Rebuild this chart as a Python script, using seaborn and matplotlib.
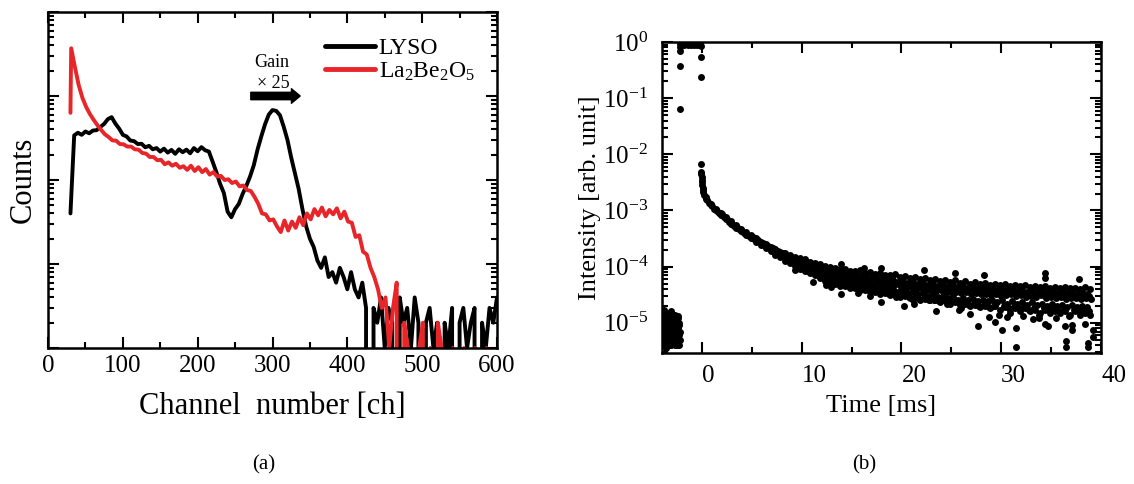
import numpy as np
import pandas as pd
import matplotlib
matplotlib.use("Agg")
import matplotlib.pyplot as plt
import seaborn as sns
from matplotlib.ticker import LogLocator, MultipleLocator, NullFormatter

# ---------- (a) pulse height spectra (counts, every 5 ch) ----------
lyso_ch = np.arange(30, 601, 5)
lyso_counts = [40, 340, 365, 345, 378, 360, 388, 392, 428, 465,
               530, 560, 470, 410, 345, 330, 295, 290, 268, 270,
               245, 255, 232, 240, 218, 236, 212, 228, 205, 232,
               214, 230, 208, 240, 220, 246, 226, 218, 165, 124,
               90, 70, 42, 36, 45, 52, 68, 85, 110, 150,
               230, 330, 460, 600, 680, 665, 590, 430, 300, 185,
               120, 78, 45, 28, 20, 16, 11, 9, 12, 7,
               8, 6, 9, 7, 5, 8, 5, 4, 6, 3,
               0, 3, 2, 4, 1, 3, 2, 0, 4, 2,
               3, 1, 4, 2, 0, 2, 3, 1, 2, 0,
               2, 1, 3, 0, 2, 3, 1, 2, 3, 0,
               2, 1, 3, 2, 4]

lbo_ch = np.r_[30, np.arange(31, 601, 5)]
lbo_counts = [630,
              3700, 2200, 1350, 950, 740, 610, 520, 450, 395, 350,
              325, 296, 294, 268, 266, 250, 250, 232, 230, 210,
              206, 188, 188, 172, 174, 154, 162, 148, 156, 140,
              146, 132, 148, 128, 142, 124, 135, 116, 124, 110,
              112, 100, 102, 92, 96, 84, 86, 76, 74, 63,
              52, 40, 39, 33, 34, 28, 24, 33, 25, 32,
              27, 36, 29, 40, 34, 45, 38, 47, 37, 44,
              39, 46, 35, 42, 32, 31, 21, 22, 14, 13,
              9, 7, 5, 3, 4, 1, 3, 6, 0, 2,
              1, 0, 0, 1, 2, 0, 1, 0, 2, 1,
              0, 0, 1, 0, 0, 1, 0, 0, 1, 0,
              0, 1, 0, 0]

# ---------- (b) decay curve (intensity x 1e-6 unless noted) ----------
pre_t = np.linspace(-4.0, -2.2, 31)
pre_v1 = [9, 14, 6, 11, 17, 8, 12, 5, 10, 15, 7, 13, 9, 4, 11, 16, 8, 6, 12, 10,
          5, 9, 14, 7, 11, 4, 8, 13, 6, 10, 5]
pre_v2 = [5, 7, 12, 4, 8, 6, 3.5, 10, 6, 4, 9, 5, 7, 12, 5, 4, 10, 14, 5, 7,
          11, 4, 6, 10, 4, 7, 12, 5, 9, 4, 7]

sat_t = np.linspace(-2.2, -0.15, 30)
sat_v = [0.92, 0.95, 0.9, 0.94, 0.91, 0.96, 0.9, 0.93, 0.95, 0.91,
         0.94, 0.9, 0.96, 0.92, 0.95, 0.9, 0.93, 0.96, 0.91, 0.94,
         0.9, 0.95, 0.92, 0.96, 0.9, 0.94, 0.91, 0.95, 0.92, 0.9]   # absolute
edge_t = [-2.2, -2.2, -2.2, -2.2, -0.1, -0.1, -0.1]
edge_v = [0.063, 0.38, 0.68, 0.82, 0.84, 0.55, 0.24]              # absolute

onset_t = [-0.1, -0.08, -0.06, -0.04, -0.02, 0.0, 0.03, 0.06, 0.1, 0.15]
onset_v = [6600, 4900, 4400, 3900, 3500, 3150, 2850, 2550, 2300, 2100]

decay_t = np.arange(1, 157) * 0.25
decay_mid = [1850, 1540, 1360, 1200, 1080, 990, 915, 850, 760, 695,
             635, 578, 540, 498, 465, 425, 400, 370, 352, 328,
             312, 285, 272, 250, 243, 222, 218, 197, 190, 174,
             172, 158, 156, 140, 142, 125, 131, 118, 121, 107,
             112, 98, 106, 92, 99, 86, 94, 80, 88, 74,
             84, 70, 80, 67, 76, 63, 73, 60, 70, 58,
             66, 56, 64, 52, 63, 54, 60, 50, 58, 52,
             56, 48, 57, 47, 54, 46, 53, 49, 51, 44,
             50, 42, 49, 44, 46, 40, 48, 41, 45, 39,
             44, 38, 45, 37, 42, 39, 43, 36, 41, 35,
             40, 35, 41, 34, 38, 36, 39, 33, 38, 34,
             37, 32, 38, 33, 36, 31, 37, 33, 35, 30,
             36, 31, 35, 32, 34, 30, 35, 31, 33, 29,
             34, 30, 33, 29, 34, 31, 32, 28, 33, 29,
             32, 28, 33, 29, 31, 27, 32, 28, 31, 28,
             30, 27, 31, 28, 30, 27]

band_t = 0.375 + 0.5 * np.arange(78)
band_hi = [1760, 1330, 1080, 920, 770, 640, 550, 470, 410, 360,
           320, 280, 250, 225, 205, 185, 172, 158, 148, 140,
           135, 122, 118, 110, 104, 100, 96, 90, 92, 84,
           82, 86, 78, 80, 74, 77, 72, 70, 73, 66,
           68, 64, 66, 60, 63, 58, 60, 56, 59, 54,
           57, 52, 55, 50, 53, 49, 52, 48, 50, 47,
           49, 46, 48, 45, 47, 44, 46, 43, 45, 42,
           44, 41, 43, 41, 42, 40, 43, 40]
band_lo = [1620, 1230, 1000, 840, 700, 580, 495, 425, 365, 320,
           278, 242, 212, 188, 162, 146, 128, 117, 102, 92,
           82, 76, 70, 62, 60, 54, 52, 48, 45, 43,
           41, 38, 39, 35, 36, 33, 34, 31, 32, 29,
           30, 28, 29, 26, 27, 25, 26, 23, 25, 22,
           23, 21, 22, 20, 21, 19, 20, 18, 20, 17,
           19, 17, 18, 16, 18, 16, 17, 15, 17, 15,
           16, 15, 16, 14, 16, 14, 15, 14]

band2_t = 10.125 + 0.5 * np.arange(58)
band2_v = [92, 84, 80, 71, 70, 62, 63, 56, 57, 51,
           52, 46, 48, 43, 45, 40, 42, 38, 40, 36,
           37, 34, 35, 32, 34, 30, 32, 29, 30, 28,
           29, 26, 28, 25, 27, 24, 26, 24, 25, 23,
           25, 22, 24, 22, 23, 21, 23, 21, 22, 20,
           22, 20, 21, 19, 21, 19, 20, 19]

band3_t = 5.125 + 0.5 * np.arange(68)
band3_v = [340, 300, 262, 236, 212, 188, 172, 155, 140, 130,
           124, 112, 108, 98, 96, 88, 86, 80, 79, 72,
           74, 68, 70, 64, 66, 60, 62, 57, 59, 54,
           56, 52, 54, 50, 52, 48, 50, 46, 48, 45,
           47, 43, 45, 42, 44, 41, 43, 40, 42, 39,
           41, 38, 40, 37, 39, 36, 38, 36, 37, 35,
           37, 34, 36, 34, 35, 33, 35, 33]

band4_t = 12.3 + 0.5 * np.arange(54)
band4_v = [56, 52, 50, 46, 47, 42, 43, 39, 40, 30,
           38, 35, 35, 32, 33, 30, 31, 29, 22, 27,
           28, 26, 26, 24, 25, 23, 24, 17, 23, 21,
           22, 20, 21, 19, 20, 14, 20, 18, 19, 18,
           19, 17, 18, 12, 18, 17, 18, 16, 17, 13,
           17, 16, 17, 16]

out_t = [9.3, 11.1, 12.4, 12.9, 13.9, 13.9, 15.6, 16.2, 16.8, 17.9, 17.95, 19.5,
         20.3, 21.2, 22.3, 23.5, 24.6, 25.4, 26.0, 26.9, 27.7, 28.3, 28.8, 29.4,
         30.1, 30.6, 30.9, 31.5, 31.5, 32.2, 33.2, 33.8, 34.4, 34.4, 34.4, 34.7,
         35.5, 36.4, 36.5, 36.5, 37.1, 37.1, 37.8, 38.4, 38.7, 38.7, 39.2, 39.2]
out_v = [86, 54, 48, 43, 32, 110, 34, 95, 38, 95, 23, 29,
         20, 26, 88, 16, 22, 78, 18, 14.5, 8.9, 70, 12.8, 10.5,
         7.6, 12.8, 15, 8.1, 3.7, 13, 11.5, 14, 9.6, 76, 64, 8.9,
         12, 8.9, 4.8, 3.7, 9, 7.5, 60, 9.6, 4.3, 3.7, 7.5, 5.5]

# ---------- figure ----------
sns.set_style("ticks")
plt.rcParams["font.family"] = ["Liberation Serif", "DejaVu Serif"]
plt.rcParams["mathtext.default"] = "regular"
plt.rcParams["axes.unicode_minus"] = False
for k in ["text.color", "axes.labelcolor", "xtick.color", "ytick.color", "axes.edgecolor"]:
    plt.rcParams[k] = "black"

fig = plt.figure(figsize=(11.34, 4.84), dpi=100)
ax1 = fig.add_axes([48 / 1134, 1 - 348 / 484, 449 / 1134, 336 / 484])
ax2 = fig.add_axes([662 / 1134, 1 - 353 / 484, 439 / 1134, 311 / 484])

# (a)
sns.lineplot(x=lyso_ch, y=lyso_counts, ax=ax1, color="black", lw=2.8,
             estimator=None, label="LYSO", legend=False)
sns.lineplot(x=lbo_ch, y=lbo_counts, ax=ax1, color="#e8262a", lw=2.8,
             estimator=None, label="La$_2$Be$_2$O$_5$", legend=False)
ax1.set_yscale("log", nonpositive="clip")
ax1.set_xlim(0, 600)
ax1.set_ylim(1, 1e4)
ax1.xaxis.set_major_locator(MultipleLocator(100))
ax1.xaxis.set_minor_locator(MultipleLocator(50))
ax1.yaxis.set_major_locator(LogLocator(base=10, numticks=10))
ax1.yaxis.set_minor_locator(LogLocator(base=10, subs=np.arange(2, 10), numticks=20))
ax1.yaxis.set_major_formatter(NullFormatter())
ax1.yaxis.set_minor_formatter(NullFormatter())
ax1.tick_params(which="both", direction="in", top=True, right=True, width=1.5)
ax1.tick_params(which="major", length=8, labelsize=18, pad=5)
ax1.tick_params(which="minor", length=4)
ax1.set_xlabel("Channel  number [ch]", fontsize=22)
ax1.set_ylabel("Counts", fontsize=22)
ax1.xaxis.set_label_coords(0.5, -0.13)
ax1.yaxis.set_label_coords(-0.022, 0.5)
for s in ax1.spines.values():
    s.set_linewidth(1.8)

leg = ax1.legend(loc="upper left", bbox_to_anchor=(0.618, 0.923), frameon=False,
                 fontsize=17, handlelength=2.1, handletextpad=0.15,
                 labelspacing=0.05, borderpad=0, borderaxespad=0)
for h in leg.get_lines():
    h.set_linewidth(3.5)

ax1.annotate("", xy=(337, 1000), xytext=(271, 1000),
             arrowprops=dict(arrowstyle="simple,head_length=0.45,head_width=0.75,tail_width=0.38",
                             fc="black", ec="black", mutation_scale=14,
                             shrinkA=0, shrinkB=0))
ax1.text(299, 2530, "Gain", ha="center", va="center", fontsize=13)
ax1.text(301, 1400, "\u00d7 25", ha="center", va="center", fontsize=13)

# (b)
dec = pd.DataFrame({
    "t": np.concatenate([pre_t, pre_t, sat_t, edge_t, onset_t, decay_t,
                         band_t, band_t, band2_t, band3_t, band4_t, out_t]),
    "I": np.concatenate([np.array(pre_v1) * 1e-6, np.array(pre_v2) * 1e-6,
                         sat_v, edge_v, np.array(onset_v) * 1e-6,
                         np.array(decay_mid) * 1e-6, np.array(band_hi) * 1e-6,
                         np.array(band_lo) * 1e-6, np.array(band2_v) * 1e-6,
                         np.array(band3_v) * 1e-6, np.array(band4_v) * 1e-6,
                         np.array(out_v) * 1e-6]),
})
sns.scatterplot(data=dec, x="t", y="I", ax=ax2, color="black", s=25,
                linewidth=0, legend=False)
ax2.set_yscale("log")
ax2.set_xlim(-4, 40)
ax2.set_ylim(2.9e-6, 1.0)
ax2.set_xticks([0, 10, 20, 30, 40])
ax2.xaxis.set_minor_locator(MultipleLocator(5))
ax2.yaxis.set_major_locator(LogLocator(base=10, numticks=10))
ax2.yaxis.set_minor_locator(LogLocator(base=10, subs=np.arange(2, 10), numticks=20))
ax2.yaxis.set_minor_formatter(NullFormatter())
ax2.tick_params(which="both", direction="in", top=True, right=True, width=1.5)
ax2.tick_params(which="major", length=8, labelsize=18)
ax2.tick_params(axis="x", which="major", pad=9)
ax2.tick_params(axis="y", which="major", pad=10)
ax2.tick_params(which="minor", length=4)
plt.setp(ax2.get_xticklabels(), ha="left")
ax2.set_xlabel("Time [ms]", fontsize=19)
ax2.set_ylabel("Intensity [arb. unit]", fontsize=19)
ax2.xaxis.set_label_coords(0.5, -0.135)
ax2.yaxis.set_label_coords(-0.139, 0.5)
for s in ax2.spines.values():
    s.set_linewidth(1.8)

fig.text(264 / 1134, 1 - 465 / 484, "(a)", ha="center", va="center", fontsize=15)
fig.text(864 / 1134, 1 - 465 / 484, "(b)", ha="center", va="center", fontsize=15)

fig.savefig("out.png", dpi=100)
